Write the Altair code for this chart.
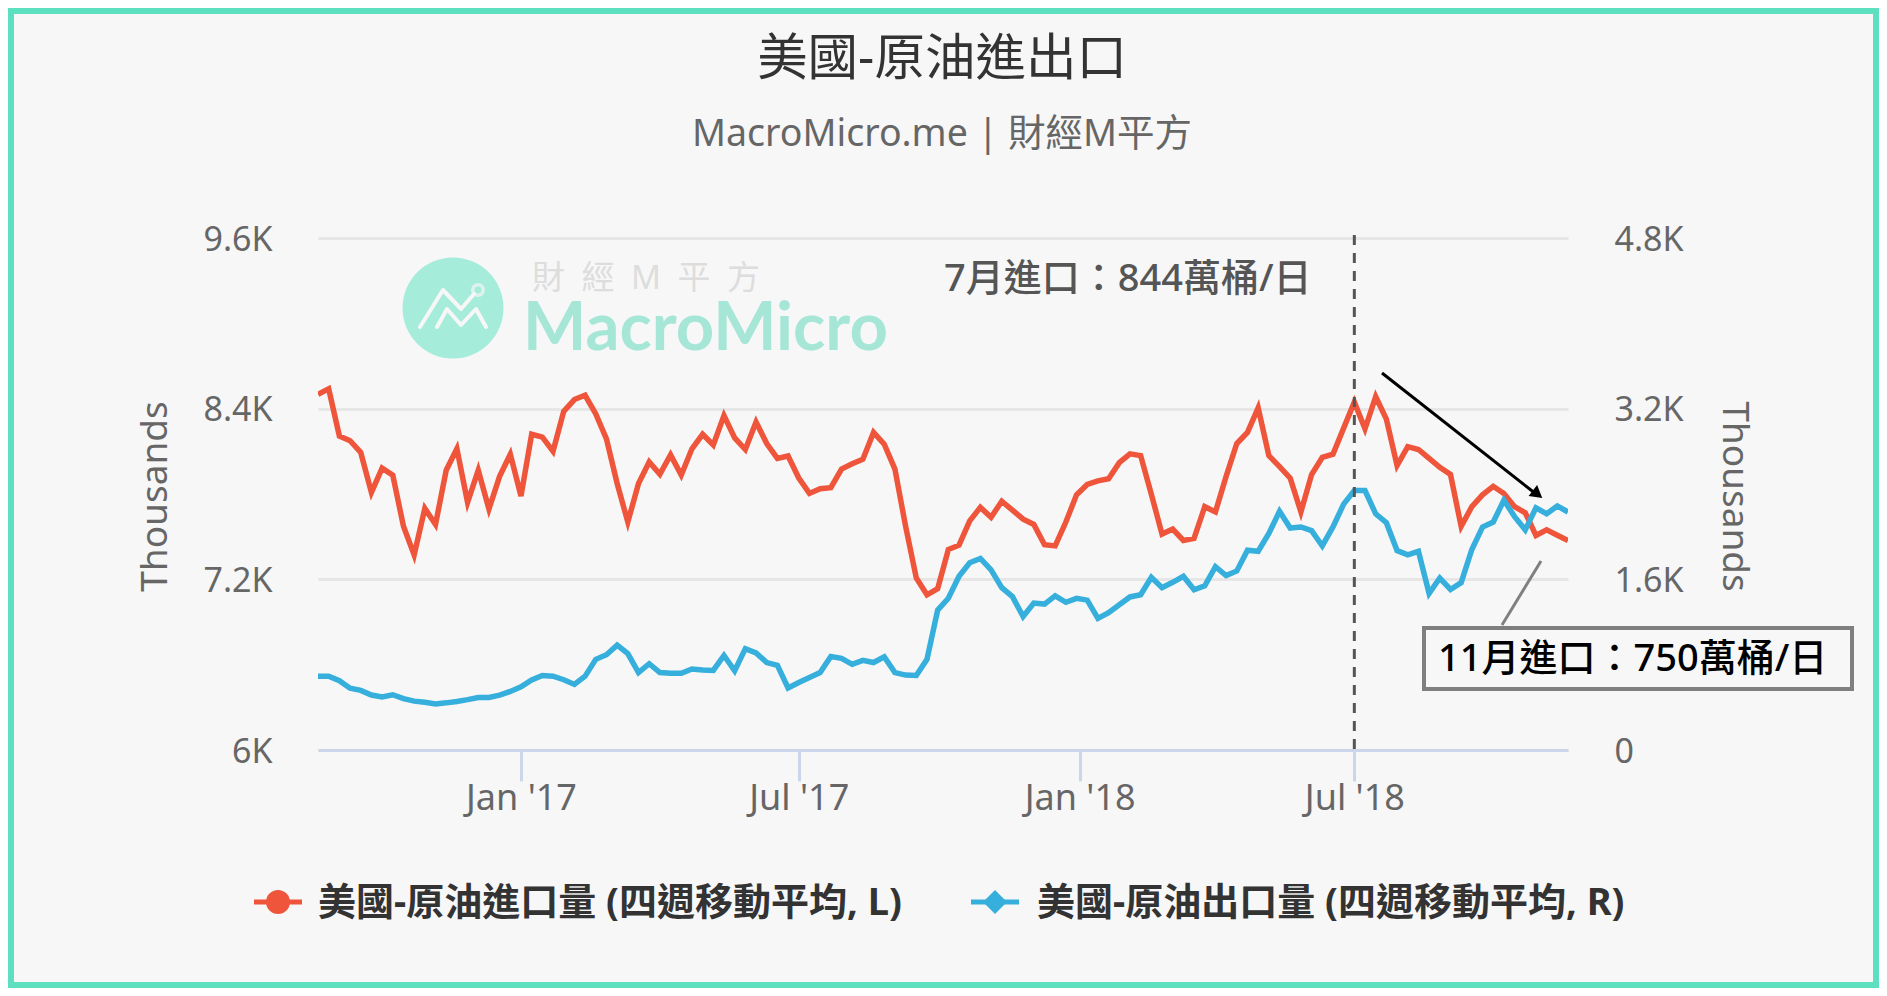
import altair as alt
import pandas as pd

imports_kbd = [8501,8539,8208,8175,8092,7811,7982,7932,7573,7372,7699,7586,7967,8118,7741,7967,7694,7924,8080,7786,
8220,8200,8100,8381,8464,8494,8363,8188,7874,7603,7874,8025,7939,8075,7934,8118,8220,8145,8351,8195,
8113,8306,8155,8050,8067,7912,7804,7837,7844,7975,8012,8045,8233,8150,7975,7573,7209,7091,7134,7410,
7440,7611,7706,7636,7749,7686,7623,7586,7443,7435,7603,7794,7867,7892,7907,8020,8082,8070,7799,7518,
7553,7473,7488,7711,7674,7924,8155,8233,8406,8070,7992,7912,7674,7937,8057,8080,8263,8446,8258,8484,
8326,8000,8133,8113,8050,7987,7937,7573,7711,7794,7854,7804,7711,7668,7508,7548,7510,7473]
exports_kbd = [692,692,649,579,559,515,498,518,482,458,448,432,442,455,472,492,492,515,549,592,
656,699,692,659,615,692,850,893,983,903,726,809,726,719,719,759,749,746,886,743,
950,910,820,793,582,632,679,726,876,860,803,840,820,873,726,702,699,850,1311,1422,
1629,1756,1796,1689,1522,1438,1251,1378,1368,1445,1385,1422,1405,1234,1288,1361,1435,1455,1619,1522,
1572,1629,1502,1539,1719,1636,1679,1873,1863,2030,2238,2081,2091,2057,1913,2091,2305,2432,2432,2214,
2131,1870,1830,1863,1468,1612,1505,1569,1880,2091,2137,2342,2188,2064,2271,2214,2288,2231]
week_dates = pd.date_range("2016-08-26", periods=len(imports_kbd), freq="7D").strftime("%Y-%m-%d").tolist()
x_ticks = ["2017-01-06", "2017-07-07", "2018-01-07", "2018-07-06"]
marked_week = ["2018-07-06"]
left_ticks = [6000, 7200, 8400, 9600]
right_ticks = [0, 1600, 3200, 4800]
TITLE = "美國-原油進出口"
SUBTITLE = "MacroMicro.me | 財經M平方"
NAME_L = "美國-原油進口量 (四週移動平均, L)"
NAME_R = "美國-原油出口量 (四週移動平均, R)"
NOTE_JUL = "7月進口：844萬桶/日"
NOTE_NOV = "11月進口：750萬桶/日"

FONT = 'Noto Sans, "Noto Sans CJK TC", sans-serif'
RED, BLUE = "#ee553b", "#36afdc"
PX, PY = 318, 238      # page position of the plot area
W, H = 1250, 512

df = pd.DataFrame({"date": week_dates, "imp": imports_kbd, "exp": exports_kbd})
xscale = alt.Scale(type="utc", domain=[week_dates[0], week_dates[-1]])
yl = alt.Scale(domain=[6000, 9600])
yr = alt.Scale(domain=[0, 4800])
klabel = "datum.value == 0 ? '0' : format(datum.value / 1000, '.1~f') + 'K'"

red = alt.Chart(df).mark_line(color=RED, strokeWidth=5.5, strokeJoin="miter", clip=True).encode(
    x=alt.X("date:T", scale=xscale, title=None, axis=alt.Axis(
        values=x_ticks, labelExpr="utcFormat(datum.value, \"%b '%y\")", grid=False,
        domainColor="#ccd6eb", domainWidth=3, tickColor="#ccd6eb", tickWidth=3, tickSize=31,
        labelColor="#666666", labelFontSize=36, labelFont=FONT, labelPadding=0, labelFlush=False)),
    y=alt.Y("imp:Q", scale=yl, title="Thousands", axis=alt.Axis(
        values=left_ticks, labelExpr=klabel, domain=False, ticks=False, grid=True,
        gridColor="#e6e6e6", gridWidth=3, labelColor="#666666", labelFontSize=34, labelFont=FONT,
        labelPadding=46, labelOffset=2, titleColor="#666666", titleFontSize=37, titleFont=FONT,
        titleFontWeight="normal", titleX=-144, titleY=258)),
)
blue = alt.Chart(df).mark_line(color=BLUE, strokeWidth=5.5, strokeJoin="miter", clip=True).encode(
    x=alt.X("date:T", scale=xscale, axis=None),
    y=alt.Y("exp:Q", scale=yr, title="Thousands", axis=alt.Axis(
        orient="right", values=right_ticks, labelExpr=klabel, domain=False, ticks=False, grid=False,
        labelColor="#666666", labelFontSize=34, labelFont=FONT, labelPadding=46, labelOffset=2,
        titleColor="#666666", titleFontSize=37, titleFont=FONT, titleFontWeight="normal",
        titleAngle=90, titleX=146, titleY=258)),
)

def one(text=""):
    return alt.Chart(pd.DataFrame({"t": [text]}))

def label(text, x, y, size, color, weight="normal", align="left", font=FONT, opacity=1):
    return one(text).mark_text(font=font, fontSize=size, color=color, fontWeight=weight, align=align,
                               baseline="middle", opacity=opacity).encode(
        text="t:N", x=alt.value(x - PX), y=alt.value(y - PY))

def seg(x1, y1, x2, y2, color, width, dash=None):
    kw = {"strokeDash": dash} if dash else {}
    return one().mark_rule(color=color, strokeWidth=width, **kw).encode(
        x=alt.value(x1 - PX), y=alt.value(y1 - PY), x2=alt.value(x2 - PX), y2=alt.value(y2 - PY))

def dot(x, y, shape, size, **kw):
    return one().mark_point(shape=shape, size=size, **kw).encode(x=alt.value(x - PX), y=alt.value(y - PY))

def poly(pts, color, width):
    d = pd.DataFrame({"x": [p[0] - PX for p in pts], "y": [p[1] - PY for p in pts], "o": range(len(pts))})
    return alt.Chart(d).mark_line(color=color, strokeWidth=width, strokeCap="round", strokeJoin="round").encode(
        x=alt.X("x:Q", scale=None, axis=None), y=alt.Y("y:Q", scale=None, axis=None), order="o:O")

frame = one().mark_rect(fillOpacity=0, stroke="#5ce0c0", strokeWidth=6).encode(
    x=alt.value(11 - PX), x2=alt.value(1876 - PX), y=alt.value(11 - PY), y2=alt.value(985 - PY))

heading = [
    label(TITLE, 942, 60, 50.5, "#333333", align="center"),
    label(SUBTITLE, 942, 135, 37.5, "#666666", align="center"),
]

logo = [
    dot(453, 308, "circle", 10200, filled=True, color="#a5ecdb", opacity=1),
    poly([(420, 327), (443, 290), (461, 309), (474, 294)], "#f7f7f7", 4),
    poly([(437, 327), (447, 309), (461, 325), (476, 309), (486, 327)], "#f7f7f7", 4),
    dot(478, 290, "circle", 110, filled=False, color="#f7f7f7", strokeWidth=3.5),
    label("財\u2002經\u2002M\u2002平\u2002方", 532, 279, 33, "#dddddd"),
    label("MacroMicro", 523, 330, 67, "#a5e6d6", "bold", font="Lato"),
]

jul_rule = alt.Chart(pd.DataFrame({"d": marked_week})).mark_rule(
    color="#555555", strokeWidth=3, strokeDash=[10, 8]).encode(
    x=alt.X("d:T", scale=xscale, axis=None), y=alt.value(-3), y2=alt.value(H))

notes = [
    label(NOTE_JUL, 944, 280, 38, "#555555", 500),
    seg(1382, 373, 1536, 494, "#000000", 3),
    dot(1536, 493, "triangle", 190, filled=True, color="#000000", opacity=1, angle=128),
    seg(1541, 561, 1502, 625, "#808080", 3),
    one().mark_rect(fill="#f7f7f7", stroke="#7f7f7f", strokeWidth=4).encode(
        x=alt.value(1424 - PX), x2=alt.value(1852 - PX), y=alt.value(628 - PY), y2=alt.value(689 - PY)),
    label(NOTE_NOV, 1438, 660, 38, "#000000", 500),
]

legend = [
    seg(254, 902, 302, 902, RED, 5),
    dot(278, 902, "circle", 576, filled=True, color=RED, opacity=1),
    label(NAME_L, 318, 904, 38, "#333333", "bold"),
    seg(971, 902, 1019, 902, BLUE, 5),
    dot(995, 902, "diamond", 576, filled=True, color=BLUE, opacity=1),
    label(NAME_R, 1037, 904, 38, "#333333", "bold"),
]

chart = alt.layer(frame, *heading, *logo, red, blue, jul_rule, *notes, *legend).resolve_scale(
    x="independent", y="independent"
).properties(
    width=W, height=H, background="#f7f7f7",
    autosize=alt.AutoSizeParams(type="none"),
    padding={"left": 310, "top": 230, "right": 311, "bottom": 238},
).configure_view(stroke=None)

chart.save("out.html", embed_options={"renderer": "svg", "actions": False})
